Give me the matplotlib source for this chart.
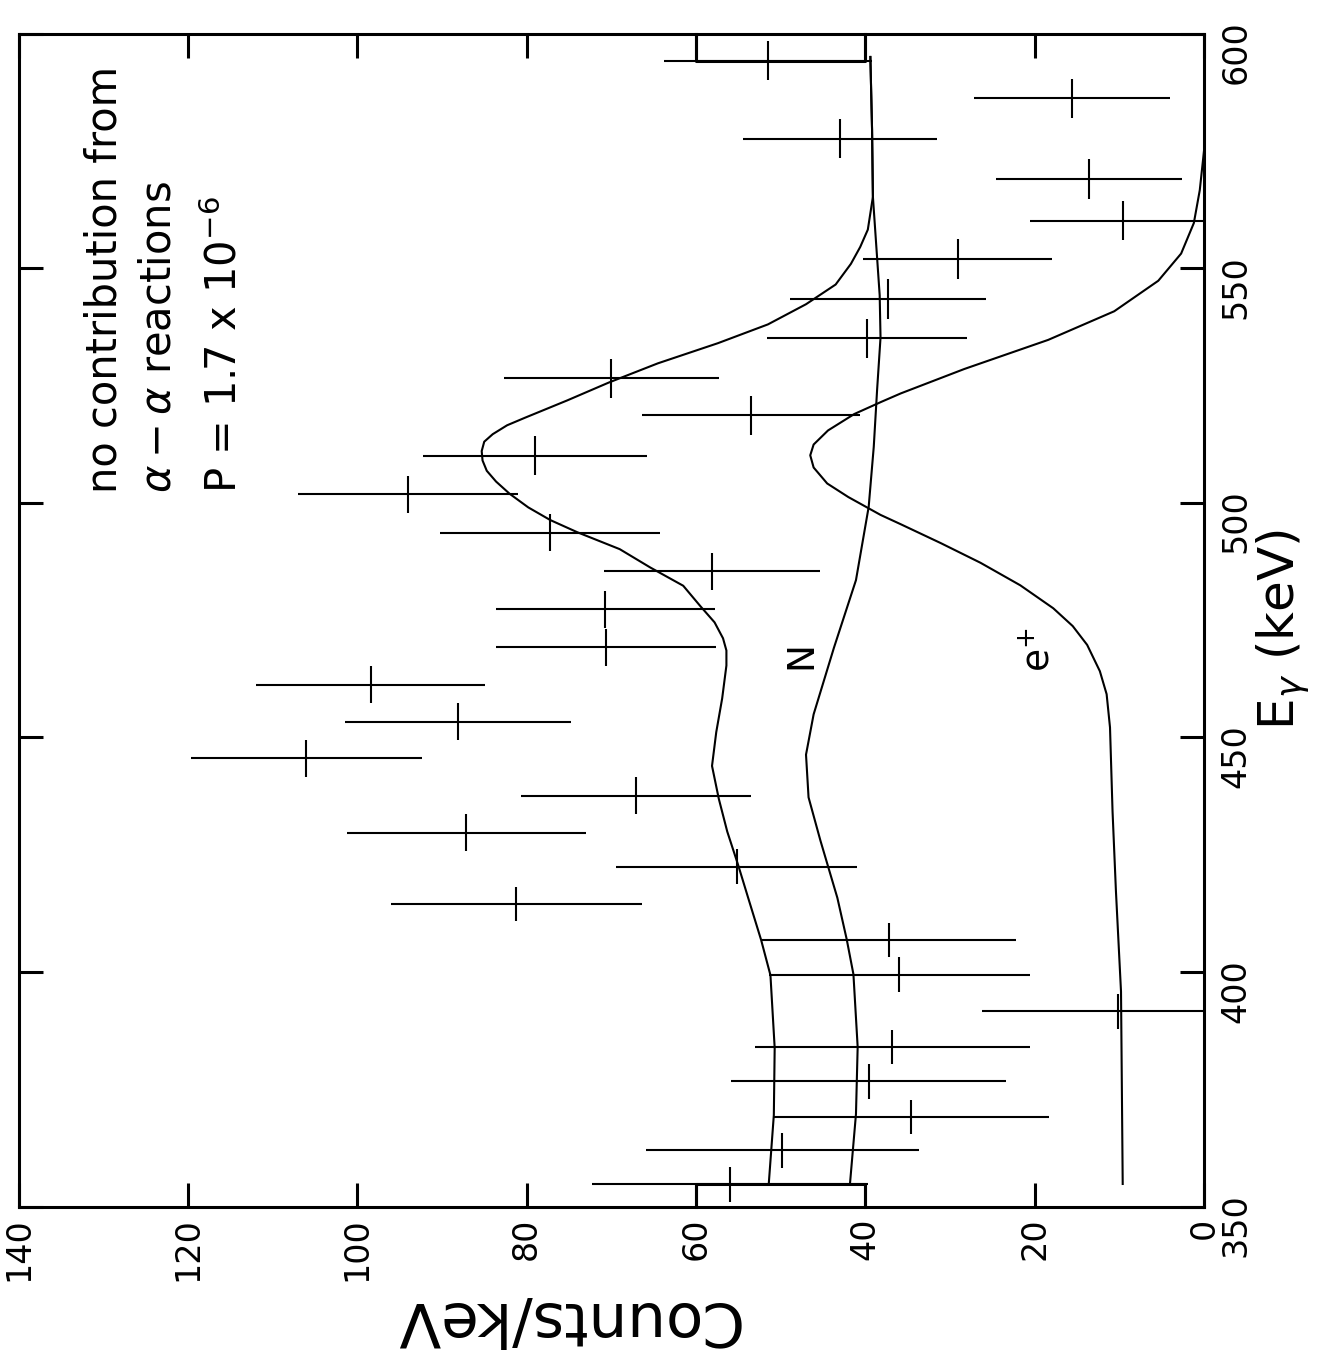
import matplotlib
matplotlib.use("Agg")
import matplotlib.pyplot as plt

# ---------------- data ----------------
energy = [354.7, 362.0, 369.1, 376.7, 384.0, 391.6, 399.4, 406.8, 414.5, 422.4,
          429.7, 437.5, 445.5, 453.3, 461.2, 469.2, 477.3, 485.4, 493.6, 501.8,
          510.0, 518.6, 526.5, 535.0, 543.4, 551.9, 560.1, 569.0, 577.6, 586.2,
          594.2]
counts = [56.0, 49.8, 34.6, 39.6, 36.8, 10.2, 36.0, 37.2, 81.2, 55.2, 87.1, 67.1,
          106.0, 88.1, 98.4, 70.6, 70.7, 58.1, 77.2, 94.0, 79.0, 53.5, 70.0, 39.8,
          37.3, 29.1, 9.6, 13.6, 43.0, 15.6, 51.5]
count_err = [16.3, 16.1, 16.3, 16.2, 16.2, 16.0, 15.4, 15.0, 14.8, 14.2, 14.1, 13.6,
             13.6, 13.4, 13.5, 13.0, 12.9, 12.8, 13.0, 13.0, 13.2, 12.9, 12.7, 11.8,
             11.6, 11.2, 10.9, 11.0, 11.5, 11.6, 12.3]
bin_half = [3.7] * 10 + [3.95] * 10 + [4.2] * 11

total_E = [354.8, 369.5, 383.8, 399.3, 406.8, 415.6, 422.7, 429.9, 436.9, 443.9,
           451.1, 458.3, 465.3, 468.5, 471.1, 474.5, 478.0, 482.3, 486.2, 490.1,
           493.7, 496.3, 499.0, 501.9, 504.5, 506.8, 509.0, 511.0, 513.0, 514.6,
           516.5, 518.1, 521.8, 525.6, 529.7, 534.0, 538.0, 542.3, 546.5, 550.9,
           554.5, 558.2, 565.2, 579.5, 595.0]
total_c = [51.4, 50.8, 50.7, 51.2, 52.3, 53.8, 55.0, 56.3, 57.3, 58.1,
           57.6, 56.9, 56.4, 56.4, 56.8, 57.8, 59.5, 61.5, 65.4, 69.0,
           74.0, 77.2, 79.8, 82.0, 83.6, 84.7, 85.2, 85.3, 85.0, 84.0,
           82.3, 80.2, 75.2, 70.3, 64.5, 57.4, 51.5, 47.0, 43.5, 41.7,
           40.6, 39.7, 39.1, 39.2, 39.4]

n_E = [355.0, 369.7, 384.0, 399.5, 407.0, 415.8, 428.0, 437.2, 446.3, 454.9,
       469.1, 483.5, 499.1, 511.9, 524.2, 535.2, 544.2, 565.2, 579.5, 595.0]
n_c = [41.8, 41.1, 40.9, 41.4, 42.2, 43.3, 45.3, 46.7, 47.0, 46.1,
       43.7, 41.1, 39.6, 39.0, 38.6, 38.2, 38.3, 39.1, 39.2, 39.4]

ep_E = [354.8, 395.8, 417.2, 434.2, 452.1, 459.2, 464.1, 469.7, 473.7, 477.5,
        482.4, 487.2, 491.4, 495.4, 497.4, 501.2, 504.1, 507.5, 510.1, 512.4,
        515.4, 518.9, 521.5, 523.3, 528.5, 534.7, 540.8, 547.3, 553.1, 559.6,
        566.6, 575.0]
ep_c = [9.6, 9.8, 10.4, 10.8, 11.1, 11.5, 12.3, 13.8, 15.5, 17.8,
        21.7, 26.4, 31.1, 35.8, 38.2, 42.0, 44.5, 46.1, 46.5, 46.1,
        44.4, 41.3, 38.1, 35.8, 28.3, 18.4, 10.6, 5.4, 2.7, 1.2,
        0.5, 0.0]

box_low_E = [350, 354.7, 354.7, 350]
box_high_E = [600, 594.2, 594.2, 600]
box_c = [40, 40, 60, 60]

count_ticks = [0, 20, 40, 60, 80, 100, 120, 140]
energy_ticks = [350, 400, 450, 500, 550, 600]

# ---------------- figure ----------------
W, H = 1333, 1361
fig = plt.figure(figsize=(W / 100, H / 100), dpi=100)
ax = fig.add_axes([18.5 / W, 1 - 1206.5 / H, 1185.5 / W, 1173 / H])

lw = 1.5
ax.errorbar(counts, energy, xerr=count_err, yerr=bin_half, fmt='none',
            ecolor='black', elinewidth=lw, capsize=0)
ax.plot(total_c, total_E, color='black', lw=lw)
ax.plot(n_c, n_E, color='black', lw=lw)
ax.plot(ep_c, ep_E, color='black', lw=lw)
ax.plot(box_c, box_low_E, color='black', lw=2.2, clip_on=False)
ax.plot(box_c, box_high_E, color='black', lw=2.2, clip_on=False)

ax.set_xlim(140, 0)
ax.set_ylim(350, 600)
ax.set_xticks(count_ticks)
ax.set_yticks(energy_ticks)
ax.set_xticklabels([str(t) for t in count_ticks])
ax.set_yticklabels([str(t) for t in energy_ticks])

for s in ax.spines.values():
    s.set_linewidth(2.2)

ax.tick_params(direction='in', length=17, width=2.2, labelsize=24,
               top=True, bottom=True, left=True, right=True,
               labelleft=False, labelright=True)
ax.tick_params(axis='x', labelrotation=90, pad=8)
ax.tick_params(axis='y', labelrotation=90, pad=11)

# annotation text
ax.text(128.4, 502.1, "no contribution from", rotation=90, rotation_mode='anchor',
        ha='left', va='baseline', fontsize=30)
ax.text(122.1, 502.1, r"$\alpha-\alpha$ reactions", rotation=90, rotation_mode='anchor',
        ha='left', va='baseline', fontsize=30)
ax.text(114.2, 502.1, r"P = 1.7 x 10$^{-6}$", rotation=90, rotation_mode='anchor',
        ha='left', va='baseline', fontsize=30)

ax.text(47.6, 467.5, "N", rotation=90, ha='center', va='center', fontsize=27)
ax.text(19.4, 468.6, r"e$^{+}$", rotation=90, ha='center', va='center', fontsize=27)

# axis labels
ax.text(1.067, 0.4915, r"E$_{\gamma}$ (keV)", transform=ax.transAxes, rotation=90,
        ha='center', va='center', fontsize=36)
ax.text(0.461, -0.0959, "Counts/keV", transform=ax.transAxes, rotation=180,
        ha='center', va='center', fontsize=44)

fig.savefig("out.png", dpi=100)
